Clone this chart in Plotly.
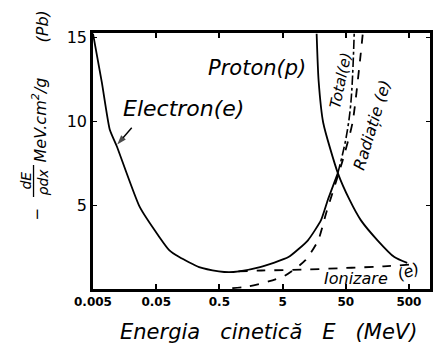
import plotly.graph_objects as go
import numpy as np

# Kinetic energy (MeV) and stopping power -dE/(rho dx) in MeV cm^2/g, lead absorber
electron_E = [0.005, 0.0069, 0.0092, 0.0119, 0.0273, 0.056, 0.081, 0.116, 0.239, 0.49,
              0.71, 1.02, 2.2, 6.2, 12.6, 20.3, 26.0, 37.5]
electron_S = [15.2, 12.3, 9.5, 8.5, 4.9, 3.1, 2.3, 1.9, 1.3, 1.05,
              1.0, 1.05, 1.3, 1.9, 2.9, 4.1, 5.3, 6.9]

total_E = [37.5, 50.0, 60.0, 68.0]
total_S = [6.9, 8.9, 11.0, 15.2]

radiation_E = [0.8, 1.45, 3.0, 5.5, 11.4, 18.3, 24.4, 45.0, 64.0, 84.0, 93.0]
radiation_S = [0.05, 0.15, 0.45, 0.8, 1.7, 2.9, 4.5, 7.7, 9.9, 13.6, 15.2]

ionization_E = [1.0, 2.3, 10.0, 50.0, 200.0, 500.0]
ionization_S = [1.05, 1.1, 1.15, 1.25, 1.35, 1.45]

proton_E = [17.3, 18.6, 22.0, 37.5, 57.6, 86.5, 159.0, 294.0, 469.0]
proton_S = [15.2, 12.4, 9.9, 6.9, 5.3, 4.1, 2.9, 1.9, 1.55]

# pointer from the "Electron(e)" label to its curve
pointer_E = [0.0205, 0.0121]
pointer_S = [9.6, 8.6]

x_ticks = [0.005, 0.05, 0.5, 5, 50, 500]
x_ticktext = ["0.005", "0.05", "0.5", "5", "50", "500"]
y_ticks = [5, 10, 15]

hand = "DejaVu Sans"
ink = "black"

fig = go.Figure()
fig.add_trace(go.Scatter(x=electron_E, y=electron_S, mode="lines",
                         line=dict(color=ink, width=1.8, shape="spline", smoothing=0.5)))
fig.add_trace(go.Scatter(x=total_E, y=total_S, mode="lines",
                         line=dict(color=ink, width=1.6, dash="dashdot", shape="spline")))
fig.add_trace(go.Scatter(x=radiation_E, y=radiation_S, mode="lines",
                         line=dict(color=ink, width=1.8, dash="dash", shape="spline", smoothing=0.6)))
fig.add_trace(go.Scatter(x=ionization_E, y=ionization_S, mode="lines",
                         line=dict(color=ink, width=1.8, dash="dash", shape="spline")))
fig.add_trace(go.Scatter(x=proton_E, y=proton_S, mode="lines",
                         line=dict(color=ink, width=1.8, shape="spline", smoothing=0.6)))
fig.add_trace(go.Scatter(x=pointer_E, y=pointer_S, mode="lines+markers",
                         line=dict(color=ink, width=1.4),
                         marker=dict(symbol=["circle", "arrow"], size=[0, 10],
                                     angleref="previous", color=ink,
                                     line=dict(width=0))))

x0 = np.log10(0.005)
fig.update_xaxes(type="log", range=[x0, x0 + 340 / 63.75],
                 tickvals=x_ticks, ticktext=x_ticktext,
                 showline=True, linecolor=ink, linewidth=2.5, mirror="ticks",
                 ticks="inside", ticklen=5, tickcolor=ink, tickwidth=1.5,
                 showgrid=False, zeroline=False,
                 tickfont=dict(family=hand, size=12, color=ink, weight="bold"))
fig.update_yaxes(range=[0, 15.24], tickvals=y_ticks,
                 showline=True, linecolor=ink, linewidth=2.5, mirror="ticks",
                 ticks="inside", ticklen=4, tickcolor=ink, tickwidth=1.2,
                 showgrid=False, zeroline=False,
                 tickfont=dict(family=hand, size=16, color=ink))


def px(xp, yp):
    """Figure pixel position -> paper coordinates of the plot area."""
    return (xp - 93) / 340, (289 - yp) / 256


def ann(text, xp, yp, size, angle=0, italic=True):
    x, y = px(xp, yp)
    fig.add_annotation(text=text, x=x, y=y, xref="paper", yref="paper",
                       showarrow=False, textangle=angle, xanchor="center", yanchor="middle",
                       font=dict(family=hand, size=size, color=ink,
                                 style="italic" if italic else "normal"))


ann("Proton(p)", 258, 68, 21)
ann("Electron(e)", 184, 108, 22)
ann("Total(e)", 343, 80, 15, angle=-78)
ann("Radiație (e)", 374, 125, 16, angle=-73)
ann("Ionizare", 358, 278, 16)
ann("(e)", 411, 271, 16, angle=-20)

# axis titles
ann("Energia   cinetică   E   (MeV)", 270, 332, 21)
ann("MeV.cm<sup>2</sup>/g", 39, 120, 16, angle=-90)
ann("(Pb)", 42, 26, 16, angle=-90)
ann("dE", 25, 181, 14, angle=-90)
ann("ρdx", 43, 182, 14, angle=-90)
ann("−", 37, 214, 15, angle=-90, italic=False)
x_a, y_a = px(33, 197)
x_b, y_b = px(33, 165)
fig.add_shape(type="line", xref="paper", yref="paper",
              x0=x_a, x1=x_b, y0=y_a, y1=y_b, line=dict(color=ink, width=1.3))

fig.update_layout(width=440, height=356, showlegend=False,
                  margin=dict(l=93, r=7, t=33, b=67),
                  paper_bgcolor="white", plot_bgcolor="white")

fig.write_html("out.html")
